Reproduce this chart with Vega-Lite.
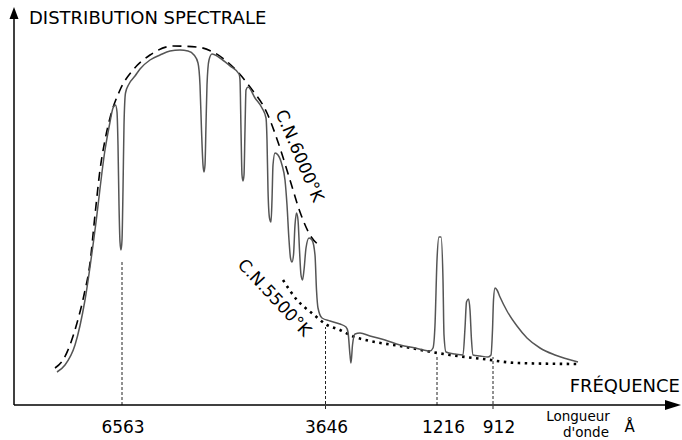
{
  "$schema": "https://vega.github.io/schema/vega-lite/v6.json",
  "width": 682,
  "height": 440,
  "padding": 0,
  "autosize": {"type": "none"},
  "background": "white",
  "config": {"view": {"stroke": null}, "text": {"font": "DejaVu Sans"}},
  "datasets": {
    "spectrum": [
      {"x":43,"y":33},{"x":51,"y":40},{"x":61,"y":60},{"x":71,"y":105},{"x":81,"y":175},{"x":91,"y":255},{"x":96,"y":283},
      {"x":99,"y":297},{"x":101.5,"y":300},{"x":103,"y":293},{"x":104,"y":260},{"x":105,"y":200},{"x":106,"y":163},{"x":107,"y":155},
      {"x":108,"y":165},{"x":109,"y":215},{"x":110,"y":280},{"x":111.5,"y":312},{"x":115,"y":321},{"x":121,"y":329},{"x":126,"y":336},
      {"x":136,"y":345},{"x":146,"y":350},{"x":156,"y":354},{"x":166,"y":355},{"x":174,"y":354},{"x":180,"y":350},{"x":184,"y":342},
      {"x":186,"y":320},{"x":187.5,"y":275},{"x":189,"y":240},{"x":190,"y":233},{"x":191,"y":240},{"x":192,"y":280},{"x":193,"y":320},
      {"x":195,"y":345},{"x":198,"y":351},{"x":206,"y":347},{"x":216,"y":339},{"x":225,"y":331},{"x":226,"y":325},{"x":227,"y":275},
      {"x":228,"y":230},{"x":229,"y":224},{"x":230,"y":230},{"x":231,"y":275},{"x":232,"y":315},{"x":234,"y":318},{"x":241,"y":307},
      {"x":248,"y":297},{"x":252,"y":287},{"x":253,"y":265},{"x":254,"y":215},{"x":255.5,"y":187},{"x":257,"y":183},{"x":258,"y":205},
      {"x":259,"y":240},{"x":261,"y":252},{"x":264,"y":250},{"x":268,"y":240},{"x":271,"y":225},{"x":273,"y":200},{"x":275,"y":165},
      {"x":276.5,"y":147},{"x":278,"y":143},{"x":279.5,"y":150},{"x":281,"y":180},{"x":282.5,"y":192},{"x":284,"y":185},{"x":285.5,"y":155},
      {"x":287,"y":130},{"x":288.5,"y":125},{"x":290,"y":135},{"x":292,"y":157},{"x":295,"y":167},{"x":298,"y":165},{"x":301,"y":150},
      {"x":302.5,"y":115},{"x":304,"y":97},{"x":308,"y":87},{"x":316,"y":84},{"x":326,"y":81},{"x":332,"y":78},{"x":334,"y":73},
      {"x":336,"y":50},{"x":337,"y":42},{"x":338.5,"y":60},{"x":341,"y":71},{"x":346,"y":72},{"x":356,"y":69},{"x":371,"y":65},
      {"x":386,"y":60},{"x":401,"y":57},{"x":416,"y":54},{"x":419,"y":57},{"x":421,"y":80},{"x":423,"y":145},{"x":425,"y":168},
      {"x":427,"y":168},{"x":429,"y":125},{"x":430,"y":70},{"x":432,"y":53},{"x":441,"y":51},{"x":449,"y":50},{"x":451,"y":77},
      {"x":452.5,"y":103},{"x":454.5,"y":106},{"x":456,"y":95},{"x":457.5,"y":65},{"x":459,"y":50},{"x":466,"y":49},{"x":474,"y":48},
      {"x":477,"y":50},{"x":478.5,"y":75},{"x":479.5,"y":105},{"x":481,"y":117},{"x":483,"y":115},{"x":486,"y":108},{"x":493,"y":94},
      {"x":503,"y":79},{"x":513,"y":67},{"x":526,"y":57},{"x":541,"y":50},{"x":564,"y":43}
    ],
    "cn6000": [
      {"x":41,"y":37},{"x":49,"y":45},{"x":56,"y":60},{"x":63,"y":82},{"x":70,"y":110},{"x":76,"y":142},{"x":81,"y":190},
      {"x":86,"y":235},{"x":91,"y":265},{"x":96,"y":287},{"x":106,"y":315},{"x":119,"y":335},{"x":136,"y":350},{"x":159,"y":359},
      {"x":183,"y":358},{"x":199,"y":353},{"x":219,"y":338},{"x":236,"y":318},{"x":253,"y":292},{"x":266,"y":257},{"x":276,"y":225},
      {"x":286,"y":193},{"x":296,"y":170},{"x":306,"y":159}
    ],
    "cn5500": [
      {"x":269,"y":125},{"x":283,"y":105},{"x":299,"y":91},{"x":313,"y":80},{"x":326,"y":75},{"x":338,"y":69},{"x":356,"y":64},
      {"x":386,"y":59},{"x":418,"y":53},{"x":436,"y":50},{"x":469,"y":46},{"x":503,"y":42},{"x":563,"y":41}
    ],
    "refs": [
      {"x":108,"top":143,"bottom":0,"label":"6563","lx":109},
      {"x":311.5,"top":78,"bottom":-4,"label":"3646","lx":312.5},
      {"x":423,"top":50,"bottom":0,"label":"1216","lx":429.5},
      {"x":479,"top":48,"bottom":-4,"label":"912","lx":485}
    ]
  },
  "encoding": {
    "x": {"type": "quantitative", "scale": {"domain": [-14, 668], "nice": false, "zero": false}, "axis": null},
    "y": {"type": "quantitative", "scale": {"domain": [-35, 405], "nice": false, "zero": false}, "axis": null}
  },
  "layer": [
    {
      "data": {"name": "refs"},
      "mark": {"type": "rule", "color": "#222", "strokeWidth": 1, "strokeDash": [3, 2]},
      "encoding": {"x": {"field": "x"}, "y": {"field": "bottom"}, "y2": {"field": "top"}}
    },
    {
      "data": {"name": "refs"},
      "mark": {"type": "text", "fontSize": 17, "align": "center", "baseline": "alphabetic", "color": "#000"},
      "encoding": {"x": {"field": "lx"}, "y": {"datum": -28}, "text": {"field": "label"}}
    },
    {
      "data": {"values": [{"x0": 0, "y0": 0, "x1": 0, "y1": 390}, {"x0": 0, "y0": 0, "x1": 652, "y1": 0}]},
      "mark": {"type": "rule", "color": "#000", "strokeWidth": 1.5},
      "encoding": {"x": {"field": "x0"}, "y": {"field": "y0"}, "x2": {"field": "x1"}, "y2": {"field": "y1"}}
    },
    {
      "data": {"values": [{"x": 0, "y": 392}]},
      "mark": {"type": "point", "shape": "M0,-1L0.75,1L-0.75,1Z", "size": 144, "filled": true, "color": "#000", "opacity": 1},
      "encoding": {"x": {"field": "x"}, "y": {"field": "y"}}
    },
    {
      "data": {"values": [{"x": 659, "y": 0}]},
      "mark": {"type": "point", "shape": "M1,0L-1,-0.625L-1,0.625Z", "size": 256, "filled": true, "color": "#000", "opacity": 1},
      "encoding": {"x": {"field": "x"}, "y": {"field": "y"}}
    },
    {
      "data": {"name": "cn6000"},
      "mark": {"type": "line", "color": "#000", "strokeWidth": 1.6, "strokeDash": [9, 6], "interpolate": "monotone"},
      "encoding": {"x": {"field": "x"}, "y": {"field": "y"}}
    },
    {
      "data": {"name": "cn5500"},
      "mark": {"type": "line", "color": "#000", "strokeWidth": 2.6, "strokeDash": [2.5, 4.5], "interpolate": "monotone"},
      "encoding": {"x": {"field": "x"}, "y": {"field": "y"}}
    },
    {
      "data": {"name": "spectrum"},
      "mark": {"type": "line", "color": "#555", "strokeWidth": 1.5, "interpolate": "monotone"},
      "encoding": {"x": {"field": "x"}, "y": {"field": "y"}}
    },
    {
      "data": {"values": [{"t": "DISTRIBUTION SPECTRALE", "x": 15, "y": 381}]},
      "mark": {"type": "text", "fontSize": 18, "align": "left", "baseline": "alphabetic", "color": "#000"},
      "encoding": {"x": {"field": "x"}, "y": {"field": "y"}, "text": {"field": "t"}}
    },
    {
      "data": {"values": [{"t": "FRÉQUENCE", "x": 666, "y": 13}]},
      "mark": {"type": "text", "fontSize": 18, "align": "right", "baseline": "alphabetic", "color": "#000"},
      "encoding": {"x": {"field": "x"}, "y": {"field": "y"}, "text": {"field": "t"}}
    },
    {
      "data": {"values": [{"t": "Longueur", "x": 564, "y": -16}, {"t": "d'onde", "x": 572, "y": -32}]},
      "mark": {"type": "text", "fontSize": 13.5, "align": "center", "baseline": "alphabetic", "color": "#000"},
      "encoding": {"x": {"field": "x"}, "y": {"field": "y"}, "text": {"field": "t"}}
    },
    {
      "data": {"values": [{"t": "Å", "x": 615.5, "y": -27}]},
      "mark": {"type": "text", "fontSize": 15, "align": "center", "baseline": "alphabetic", "color": "#000"},
      "encoding": {"x": {"field": "x"}, "y": {"field": "y"}, "text": {"field": "t"}}
    },
    {
      "data": {"values": [{"t": "C.N.6000°K", "x": 285, "y": 249}]},
      "mark": {"type": "text", "fontSize": 17, "angle": 67, "align": "center", "baseline": "middle", "color": "#000"},
      "encoding": {"x": {"field": "x"}, "y": {"field": "y"}, "text": {"field": "t"}}
    },
    {
      "data": {"values": [{"t": "C.N.5500°K", "x": 260, "y": 107}]},
      "mark": {"type": "text", "fontSize": 17, "angle": 47, "align": "center", "baseline": "middle", "color": "#000"},
      "encoding": {"x": {"field": "x"}, "y": {"field": "y"}, "text": {"field": "t"}}
    }
  ]
}
